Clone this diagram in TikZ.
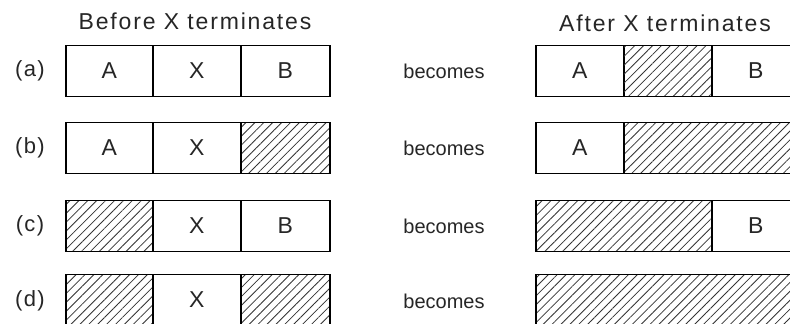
\documentclass[tikz,border=0pt]{standalone}
\usepackage{fontspec}
\setmainfont{Liberation Sans}
\newfontfamily\spacedfont[LetterSpace=8]{Liberation Sans}
\newfontfamily\lblfont[LetterSpace=6]{Liberation Sans}
\usetikzlibrary{patterns.meta}
\begin{document}
\begin{tikzpicture}[x=1pt,y=-1pt,
  cell/.style={draw=black,line width=1.5pt,minimum height=51pt,inner sep=0pt,text=black!85,font=\fontsize{23}{23}\selectfont,anchor=west},
  hatch/.style={cell,pattern={Lines[angle=45,distance=6.3pt,line width=0.8pt]},pattern color=black!80},
  rowlabel/.style={text=black!85,font=\lblfont\fontsize{22}{22}\selectfont},
  becomes/.style={text=black!85,font=\fontsize{20}{20}\selectfont},
  title/.style={text=black!85,font=\spacedfont\fontsize{23}{23}\selectfont}]
\useasboundingbox (0,0) rectangle (790,324);
\fill[white] (0,0) rectangle (790,324);
% titles
\node[title] (tb) at (195,21) {Before X terminates};
\node[title] (ta) at (665,23) {After X terminates};
% row labels
\node[rowlabel] (la) at (30,71) {(a)};
\node[rowlabel] (lb) at (30,148) {(b)};
\node[rowlabel] (lc) at (30,226) {(c)};
\node[rowlabel] (ld) at (30,301) {(d)};
% becomes
\node[becomes] (ba) at (444,71) {becomes};
\node[becomes] (bb) at (444,148) {becomes};
\node[becomes] (bc) at (444,226) {becomes};
\node[becomes] (bd) at (444,301) {becomes};
% row (a)
\node[cell,minimum width=87pt] (a1) at (65,71) {A};
\node[cell,minimum width=88pt] (a2) at (152,71) {X};
\node[cell,minimum width=89pt] (a3) at (240,71) {B};
\node[cell,minimum width=88pt] (ar1) at (535,71) {A};
\node[hatch,minimum width=88pt] (ar2) at (623,71) {};
\node[cell,minimum width=88pt] (ar3) at (711,71) {B};
% row (b)
\node[cell,minimum width=87pt] (b1) at (65,148) {A};
\node[cell,minimum width=88pt] (b2) at (152,148) {X};
\node[hatch,minimum width=89pt] (b3) at (240,148) {};
\node[cell,minimum width=88pt] (br1) at (535,148) {A};
\node[hatch,minimum width=176pt] (br2) at (623,148) {};
% row (c)
\node[hatch,minimum width=87pt] (c1) at (65,226) {};
\node[cell,minimum width=88pt] (c2) at (152,226) {X};
\node[cell,minimum width=89pt] (c3) at (240,226) {B};
\node[hatch,minimum width=176pt] (cr1) at (535,226) {};
\node[cell,minimum width=88pt] (cr2) at (711,226) {B};
% row (d)
\node[hatch,minimum width=87pt] (d1) at (65,300) {};
\node[cell,minimum width=88pt] (d2) at (152,300) {X};
\node[hatch,minimum width=89pt] (d3) at (240,300) {};
\node[hatch,minimum width=264pt] (dr1) at (535,300) {};
\end{tikzpicture}
\end{document}
